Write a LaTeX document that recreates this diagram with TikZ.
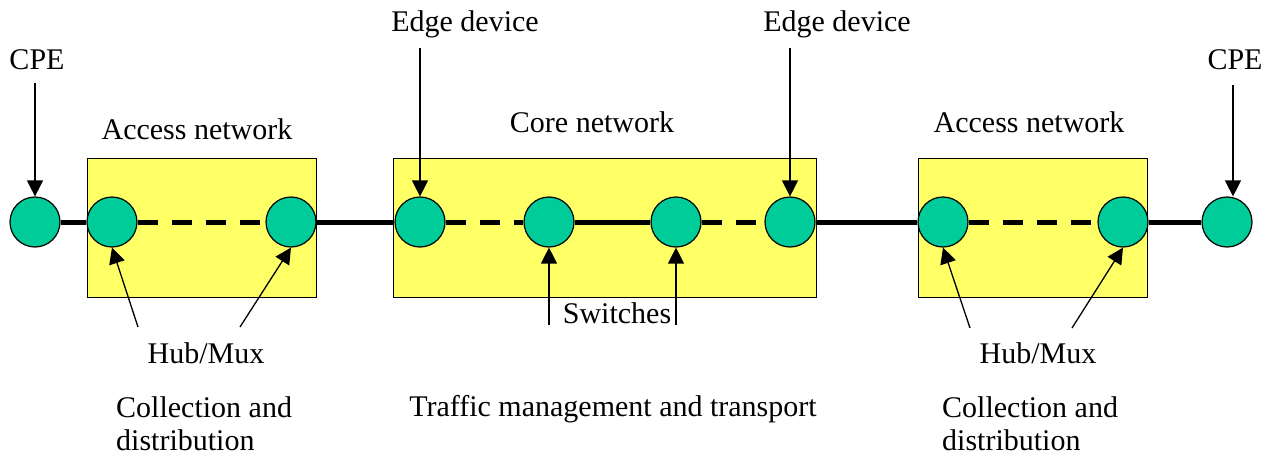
\documentclass[tikz,border=0pt]{standalone}
\usepackage{fontspec}
\setmainfont{Liberation Serif}
\usetikzlibrary{arrows.meta}
\definecolor{boxyellow}{RGB}{255,255,102}
\definecolor{sitegreen}{RGB}{0,204,153}

\begin{document}
\begin{tikzpicture}[x=1pt,y=-1pt,
    site/.style={circle,draw,line width=1.2pt,fill=sitegreen,minimum size=50pt,inner sep=0pt},
    netbox/.style={draw,line width=1.2pt,fill=boxyellow,minimum height=139pt,inner sep=0pt},
    lbl/.style={inner sep=0pt,font=\fontsize{30}{33}\selectfont},
    trunk/.style={line width=5pt},
    gapped/.style={trunk,dash pattern=on 20pt off 14pt},
    ptr/.style={line width=1.3pt,-{Triangle[length=16pt,width=16pt]}}]

    \useasboundingbox (0,0) rectangle (1271,455);

    %networks
    \node[netbox,minimum width=229pt] (accL) at (202,228) {};
    \node[netbox,minimum width=423pt] (core) at (605,228) {};
    \node[netbox,minimum width=229pt] (accR) at (1033,228) {};

    %sites
    \node[site] (cpeL) at (35,222) {};
    \node[site] (hubA) at (112,222) {};
    \node[site] (hubB) at (291,222) {};
    \node[site] (edgeA) at (420,222) {};
    \node[site] (swA) at (549,222) {};
    \node[site] (swB) at (676,222) {};
    \node[site] (edgeB) at (790,222) {};
    \node[site] (hubC) at (943,222) {};
    \node[site] (hubD) at (1123,222) {};
    \node[site] (cpeR) at (1227,222) {};

    %links
    \draw[trunk] (cpeL) -- (hubA);
    \draw[gapped] (hubA) -- (hubB);
    \draw[trunk] (hubB) -- (edgeA);
    \draw[gapped] (edgeA) -- (swA);
    \draw[trunk] (swA) -- (swB);
    \draw[gapped] (swB) -- (edgeB);
    \draw[trunk] (edgeB) -- (hubC);
    \draw[gapped] (hubC) -- (hubD);
    \draw[trunk] (hubD) -- (cpeR);

    %labels
    \node[lbl,anchor=base] (cpeLtxt) at (37,69) {CPE};
    \node[lbl,anchor=base] (cpeRtxt) at (1235,69) {CPE};
    \node[lbl,anchor=base] (edgeAtxt) at (465,31) {Edge device};
    \node[lbl,anchor=base] (edgeBtxt) at (837,31) {Edge device};
    \node[lbl,anchor=base] (accLtxt) at (197,139) {Access network};
    \node[lbl,anchor=base] (coreTxt) at (592,132) {Core network};
    \node[lbl,anchor=base] (accRtxt) at (1029,132) {Access network};
    \node[lbl,anchor=base] (swTxt) at (617,323) {Switches};
    \node[lbl,anchor=base] (hubLtxt) at (206,363) {Hub/Mux};
    \node[lbl,anchor=base] (hubRtxt) at (1038,363) {Hub/Mux};
    \node[lbl,anchor=base west,align=left] (collL) at (116,450) {Collection and\\distribution};
    \node[lbl,anchor=base west,align=left] (collR) at (942,450) {Collection and\\distribution};
    \node[lbl,anchor=base] (trafTxt) at (613,416) {Traffic management and transport};

    %pointers
    \coordinate (cpeLtop) at (35,83);
    \coordinate (cpeRtop) at (1233,85);
    \coordinate (edgeAtop) at (420,48);
    \coordinate (edgeBtop) at (790,48);
    \coordinate (swAfoot) at (549,325);
    \coordinate (swBfoot) at (676,325);
    \coordinate (hubAfoot) at (138,327);
    \coordinate (hubBfoot) at (240,327);
    \coordinate (hubCfoot) at (970,328);
    \coordinate (hubDfoot) at (1072,328);
    \draw[ptr] (cpeLtop) -- (cpeL.north);
    \draw[ptr] (cpeRtop) -- (cpeRtop |- cpeR.north);
    \draw[ptr] (edgeAtop) -- (edgeA.north);
    \draw[ptr] (edgeBtop) -- (edgeB.north);
    \draw[ptr] (swAfoot) -- (swA.south);
    \draw[ptr] (swBfoot) -- (swB.south);
    \draw[ptr] (hubAfoot) -- (hubA.south);
    \draw[ptr] (hubBfoot) -- (hubB.south);
    \draw[ptr] (hubCfoot) -- (hubC.south);
    \draw[ptr] (hubDfoot) -- (hubD.south);
\end{tikzpicture}
\end{document}
